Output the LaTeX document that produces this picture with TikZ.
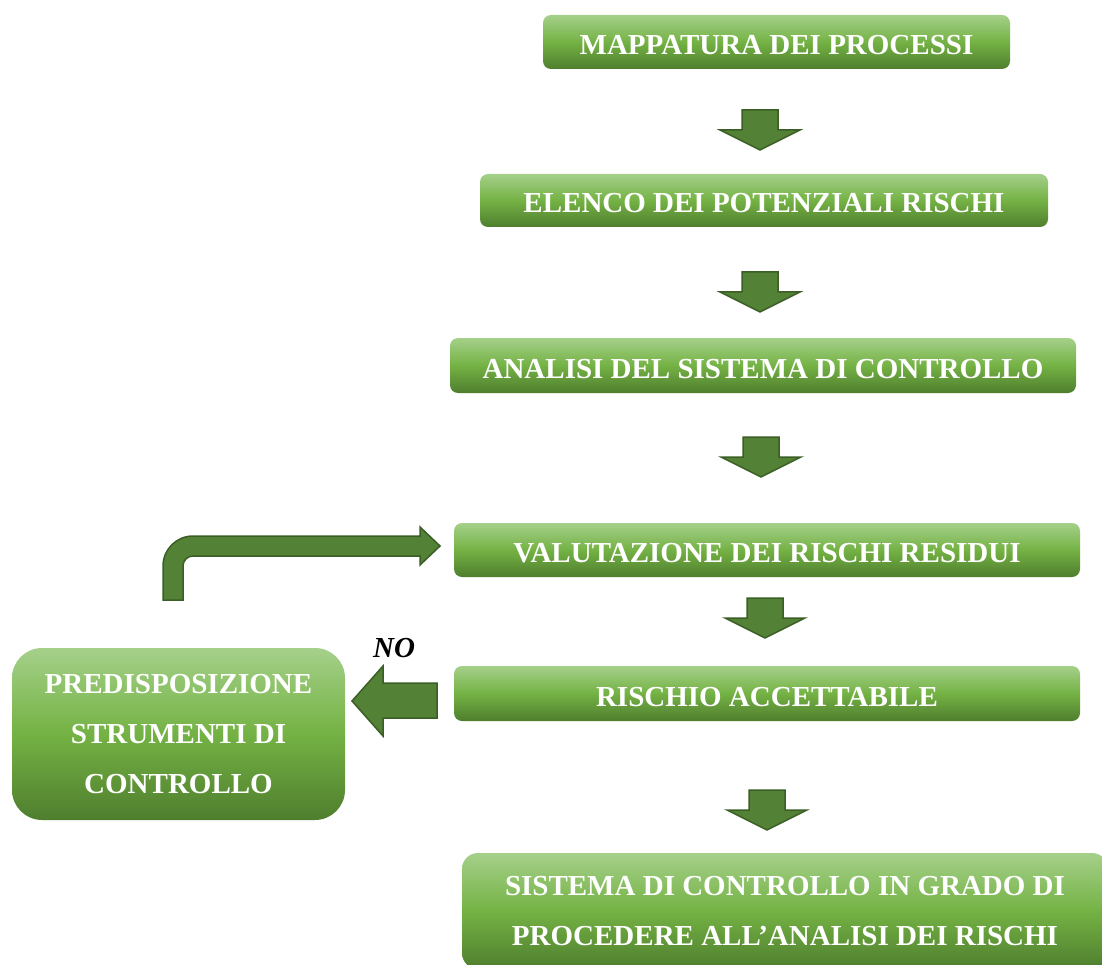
\documentclass[tikz,border=0pt]{standalone}
\usepackage{fontspec}
\setmainfont{Liberation Serif}
\usetikzlibrary{positioning}
\definecolor{boxtop}{HTML}{A5D08A}
\definecolor{boxmid}{HTML}{74B244}
\definecolor{boxbot}{HTML}{4F7E2E}
\definecolor{arrfill}{HTML}{538135}
\definecolor{arrline}{HTML}{3B5E26}

\begin{document}
\begin{tikzpicture}[x=1pt, y=-1pt,
    stepbox/.style={rounded corners=8pt, top color=boxtop, bottom color=boxbot,
                    middle color=boxmid, text=white, inner sep=0pt, align=center,
                    font=\fontsize{29}{50}\selectfont\bfseries},
    linebox/.style={stepbox, text height=25pt, text depth=0pt},
    blockarr/.style={fill=arrfill, draw=arrline, line width=1.5pt, line join=miter},
    blockdown/.pic={\draw[blockarr] (-18,-20) -- (18,-20) -- (18,0) -- (40,0)
                      -- (0,20) -- (-40,0) -- (-18,0) -- cycle;}
  ]
    \useasboundingbox (0,0) rectangle (1102,965);
    \clip (0,0) rectangle (1102,965);

    \node[linebox, minimum width=467pt, minimum height=54pt] (map)    at (776.5, 42)  {MAPPATURA DEI PROCESSI};
    \node[linebox, minimum width=568pt, minimum height=53pt] (elenco) at (764, 200.5) {ELENCO DEI POTENZIALI RISCHI};
    \node[linebox, minimum width=626pt, minimum height=55pt] (anal)   at (763, 365.5) {ANALISI DEL SISTEMA DI CONTROLLO};
    \node[linebox, minimum width=626pt, minimum height=54pt] (valut)  at (767, 550)   {VALUTAZIONE DEI RISCHI RESIDUI};
    \node[linebox, minimum width=626pt, minimum height=55pt] (accett) at (767, 693.5) {RISCHIO ACCETTABILE};
    \node[stepbox, rounded corners=16pt, minimum width=646pt, minimum height=116pt]
         (sist) at (785, 911) {SISTEMA DI CONTROLLO IN GRADO DI\\PROCEDERE ALL’ANALISI DEI RISCHI};
    \node[stepbox, rounded corners=30pt, minimum width=333pt, minimum height=172pt]
         (predis) at (178.5, 734) {PREDISPOSIZIONE\\STRUMENTI DI\\CONTROLLO};

    % frecce verso il basso
    \pic at (760, 130) {blockdown};
    \pic at (760, 292) {blockdown};
    \pic at (761, 457) {blockdown};
    \pic at (765, 618) {blockdown};
    \pic at (767, 810) {blockdown};

    % ritorno verso la valutazione
    \draw[blockarr] (163,600) -- (163,566) arc[start angle=180, end angle=270, radius=30]
      -- (420,536) -- (420,527) -- (440,546) -- (420,565) -- (420,556) -- (193,556)
      arc[start angle=270, end angle=180, radius=10] -- (183,600) -- cycle;

    % freccia NO
    \draw[blockarr] (437,683) -- (383,683) -- (383,666) -- (352,701) -- (383,736)
      -- (383,718) -- (437,718) -- cycle;
    \node[font=\fontsize{29}{30}\selectfont\bfseries\itshape] (no) at (394,648) {NO};
  \end{tikzpicture}
\end{document}
